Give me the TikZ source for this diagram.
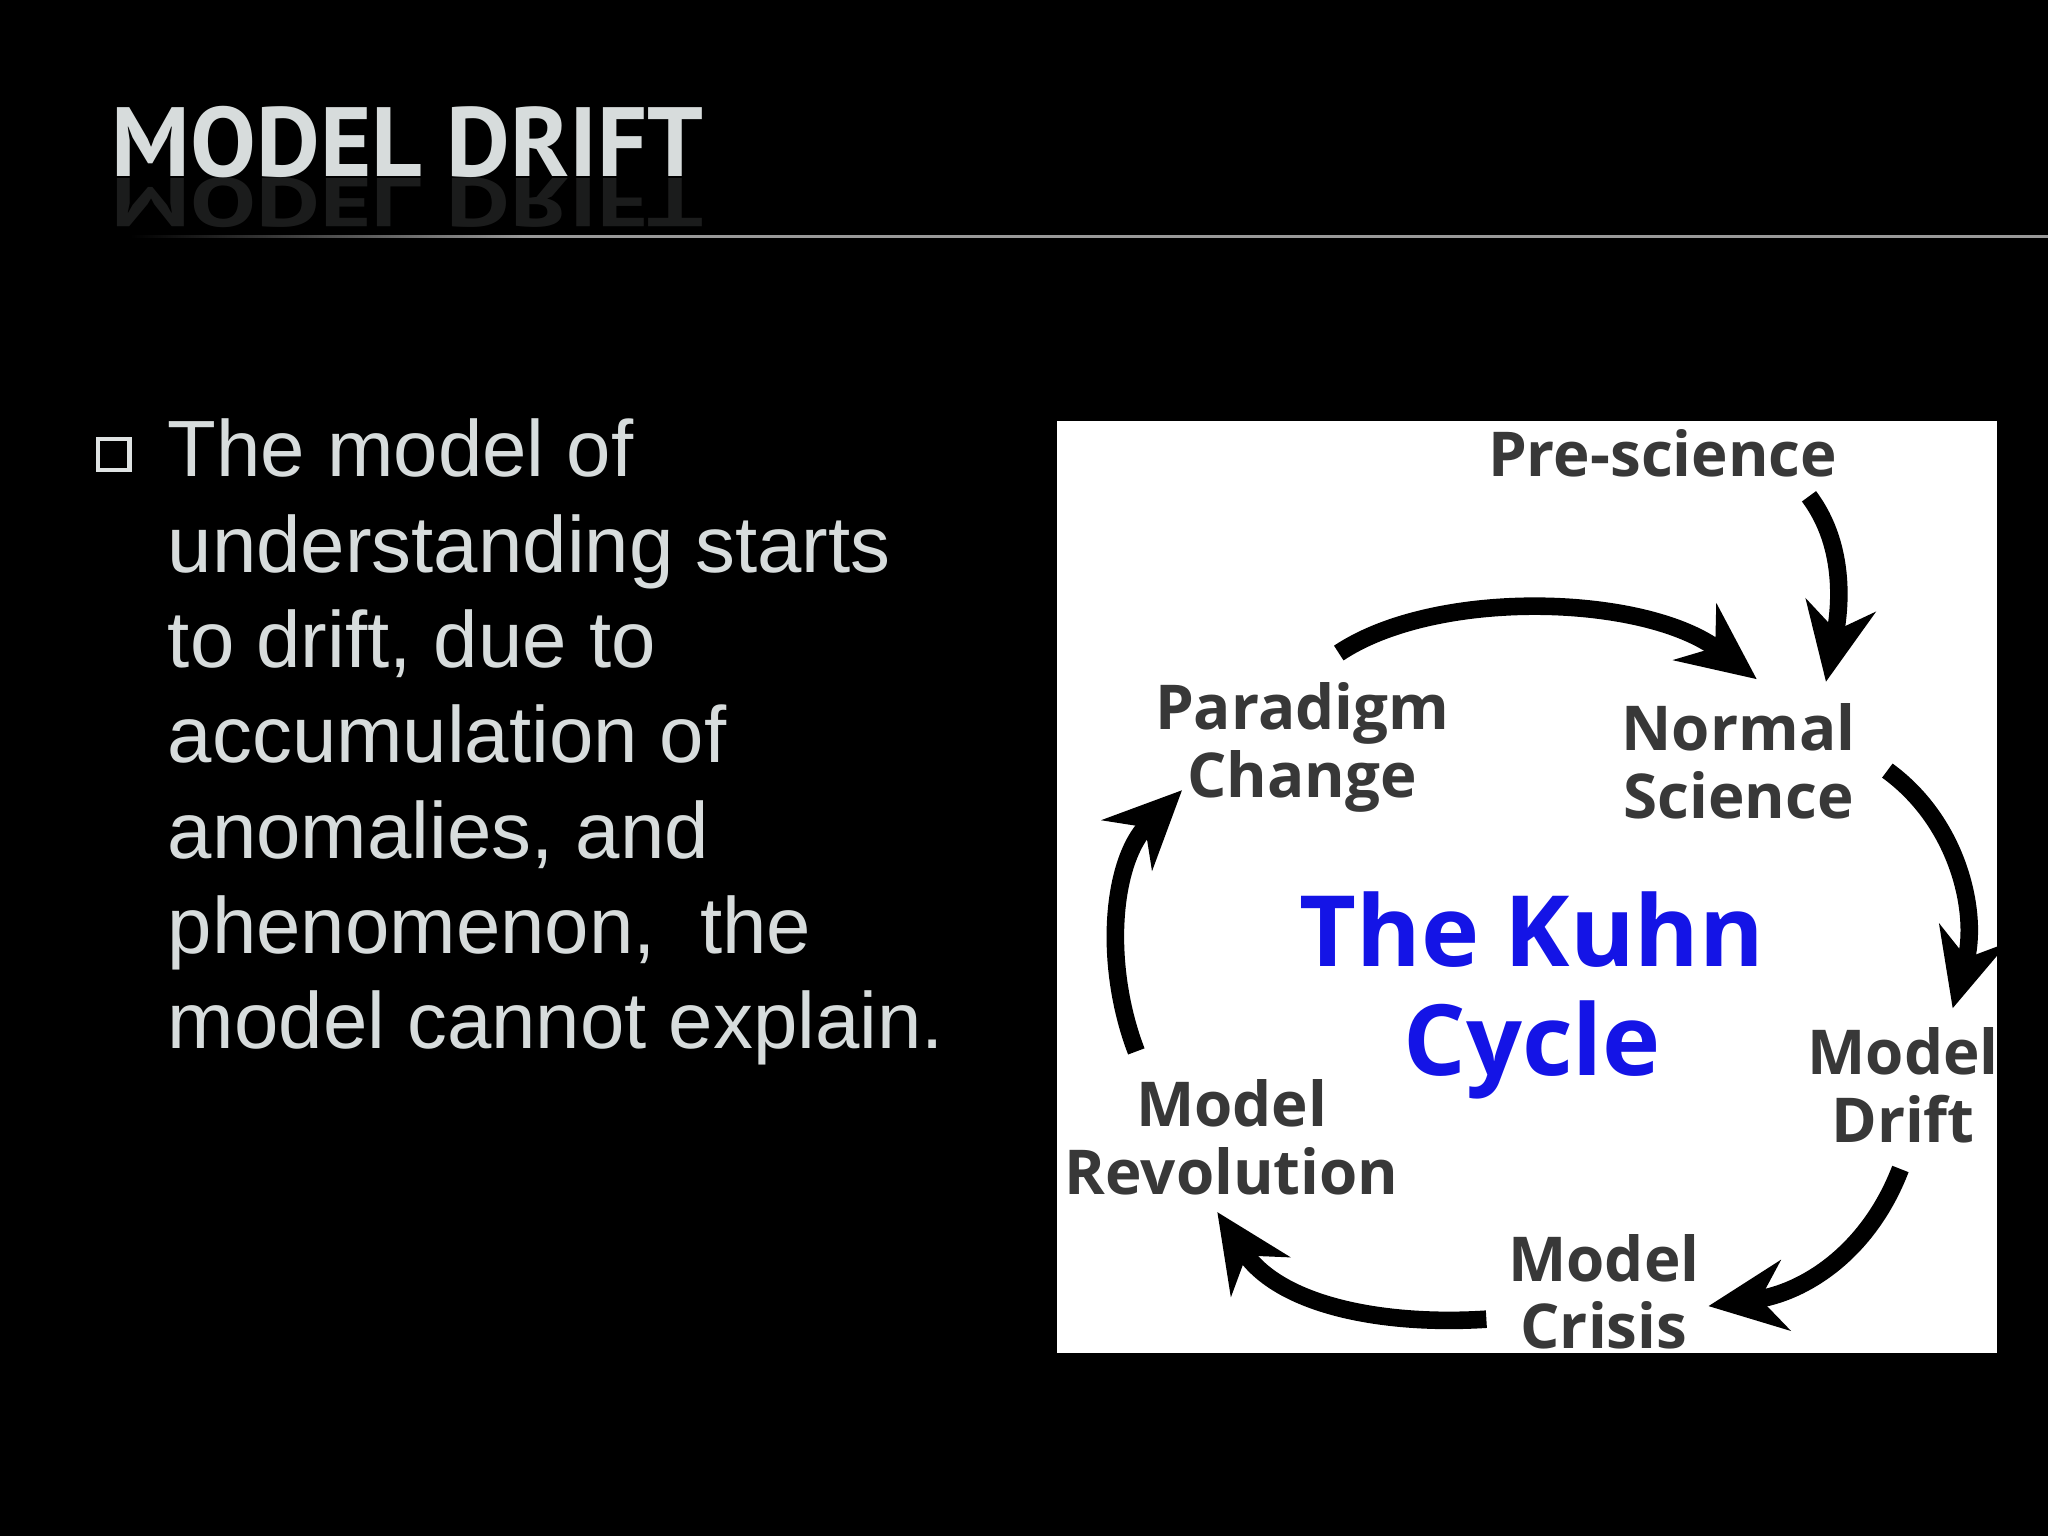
\documentclass[tikz,border=0pt]{standalone}
\usepackage{fontspec}
\setmainfont{Liberation Sans}
\newfontfamily\diag{Open Sans}
\newfontfamily\ttl{PT Sans}
\usetikzlibrary{arrows.meta,fadings}
\definecolor{kblue}{RGB}{20,20,230}
\definecolor{ttlgray}{RGB}{215,220,220}
\begin{document}
\begin{tikzpicture}[x=0.01306cm,y=-0.01306cm,
  lbl/.style={font=\diag\bfseries\fontsize{17.6}{19.3}\selectfont, text=black!78, align=center, inner sep=0pt},
  arr/.style={line width=5pt, -{Stealth[length=22pt,width=20pt]}, black},
  body/.style={font=\fontsize{22.7}{27}\selectfont, text=ttlgray, anchor=base west, inner sep=0pt}]
\useasboundingbox (0,0) rectangle (1568,1176);
\fill[black] (0,0) rectangle (1568,1176);
% title
\node[font=\ttl\bfseries\fontsize{28}{34}\selectfont, text=ttlgray, anchor=base west, inner sep=0pt] (title) at (85,135) {MODEL DRIFT};
\node[font=\ttl\bfseries\fontsize{28}{34}\selectfont, text=ttlgray, opacity=0.13, yscale=-0.7, anchor=base west, inner sep=0pt] (titlerefl) at (85,137) {MODEL DRIFT};
\shade[left color=black, right color=gray!80] (100,180) rectangle (400,182);
\fill[gray!80] (400,180) rectangle (1568,182);
% bullet
\node[draw=ttlgray!80, fill=black, line width=1.2pt, minimum size=9pt, inner sep=0pt] (bul) at (87,348) {};
\node[body] (l1) at (128,365) {The model of};
\node[body] (l2) at (128,438) {understanding starts};
\node[body] (l3) at (128,511) {to drift, due to};
\node[body] (l4) at (128,584) {accumulation of};
\node[body] (l5) at (128,657) {anomalies, and};
\node[body] (l6) at (128,730) {phenomenon,\ \ the};
\node[body] (l7) at (128,803) {model cannot explain.};
% diagram box
\fill[white] (809,322) rectangle (1529,1036);
\begin{scope}
\clip (809,322) rectangle (1529,1036);
\node[lbl] (pre) at (1273,347) {Pre-science};
\node[lbl] (para) at (997,572) {Paradigm\\Change};
\node[lbl] (norm) at (1331,583) {Normal\\Science};
\node[lbl] (drift) at (1457,831) {Model\\Drift};
\node[lbl] (rev) at (943,871) {Model\\Revolution};
\node[lbl] (crisis) at (1228,989) {Model\\Crisis};
\node[font=\diag\bfseries\fontsize{28}{31}\selectfont, text=kblue, align=center, inner sep=0pt] (kuhn) at (1173,762) {The Kuhn\\Cycle};
\coordinate (a1) at (1385,380); \coordinate (b1) at (1398,522);
\draw[arr] (a1) .. controls (1415,420) and (1408,470) .. (b1);
\coordinate (a2) at (1025,500); \coordinate (b2) at (1345,520);
\draw[arr] (a2) .. controls (1100,450) and (1260,455) .. (b2);
\coordinate (a3) at (1445,590); \coordinate (b3) at (1495,772);
\draw[arr] (a3) .. controls (1500,630) and (1515,700) .. (b3);
\coordinate (a4) at (1455,895); \coordinate (b4) at (1308,1000);
\draw[arr] (a4) .. controls (1430,960) and (1380,990) .. (b4);
\coordinate (a5) at (1138,1010); \coordinate (b5) at (932,928);
\draw[arr] (a5) .. controls (1060,1015) and (980,1000) .. (b5);
\coordinate (a6) at (870,805); \coordinate (b6) at (905,605);
\draw[arr] (a6) .. controls (845,740) and (850,660) .. (b6);
\end{scope}
\end{tikzpicture}
\end{document}
